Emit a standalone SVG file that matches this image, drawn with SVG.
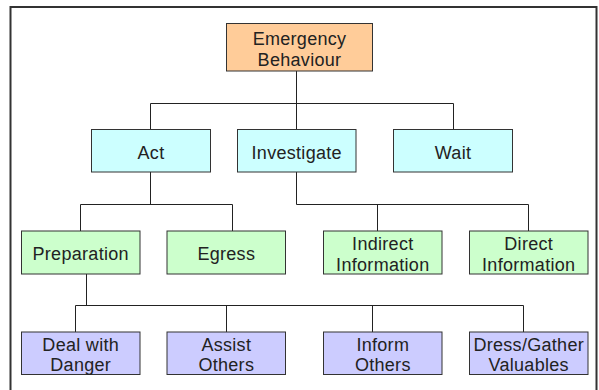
<svg xmlns="http://www.w3.org/2000/svg" width="599" height="390" viewBox="0 0 599 390">
<style>
.box{stroke:#333;stroke-width:1}
.l0{fill:#FFCC99}.l1{fill:#CCFFFF}.l2{fill:#CCFFCC}.l3{fill:#CCCCFF}
text{font-family:"Liberation Sans",Arial,sans-serif;font-size:18px;letter-spacing:0.3px;fill:#222;text-anchor:middle}
.conn{stroke:#222;stroke-width:1;fill:none}
</style>
<rect x="0" y="0" width="599" height="390" fill="#fff"/>
<rect x="10.5" y="7" width="586" height="400" fill="none" stroke="#333" stroke-width="2"/>
<g id="connectors" class="conn">
<path d="M296.5 71V103.5M150.5 103.5H453.5M150.5 103.5V129.5M296.5 103.5V129.5M453.5 103.5V129.5"/>
<path d="M150.5 172V204.5M80.5 204.5H232.5M80.5 204.5V231M232.5 204.5V231"/>
<path d="M296.5 172V204.5H528.5M377.5 204.5V231M528.5 204.5V231"/>
<path d="M86.5 274V305.5M75.5 305.5H523.5M75.5 305.5V332M226.5 305.5V332M372.5 305.5V332M523.5 305.5V332"/>
</g>
<g id="emergency"><rect class="box l0" x="226.5" y="23.5" width="146" height="47.5"/><text x="299.5" y="44.5">Emergency</text><text x="299.5" y="66">Behaviour</text></g>
<g id="act"><rect class="box l1" x="91.5" y="129.5" width="119" height="42.5"/><text x="151" y="159">Act</text></g>
<g id="investigate"><rect class="box l1" x="237.5" y="129.5" width="118.5" height="42.5"/><text x="296.7" y="159">Investigate</text></g>
<g id="wait"><rect class="box l1" x="393.5" y="129.5" width="119" height="42.5"/><text x="453" y="159">Wait</text></g>
<g id="preparation"><rect class="box l2" x="21.5" y="231" width="118.5" height="43"/><text x="80.7" y="260">Preparation</text></g>
<g id="egress"><rect class="box l2" x="167" y="231" width="118.5" height="43"/><text x="226.3" y="260">Egress</text></g>
<g id="indirect"><rect class="box l2" x="323.5" y="231" width="118.5" height="43"/><text x="382.8" y="249.5">Indirect</text><text x="382.8" y="271">Information</text></g>
<g id="direct"><rect class="box l2" x="469.5" y="231" width="118.5" height="43"/><text x="528.7" y="249.5">Direct</text><text x="528.7" y="271">Information</text></g>
<g id="deal"><rect class="box l3" x="21.5" y="332" width="118.5" height="42.5"/><text x="80.7" y="350.7">Deal with</text><text x="80.7" y="371">Danger</text></g>
<g id="assist"><rect class="box l3" x="167" y="332" width="118.5" height="42.5"/><text x="226.3" y="350.7">Assist</text><text x="226.3" y="371">Others</text></g>
<g id="inform"><rect class="box l3" x="323.5" y="332" width="118.5" height="42.5"/><text x="382.8" y="350.7">Inform</text><text x="382.8" y="371">Others</text></g>
<g id="dress"><rect class="box l3" x="469.5" y="332" width="118.5" height="42.5"/><text x="528.7" y="350.7">Dress/Gather</text><text x="528.7" y="371">Valuables</text></g>
</svg>
